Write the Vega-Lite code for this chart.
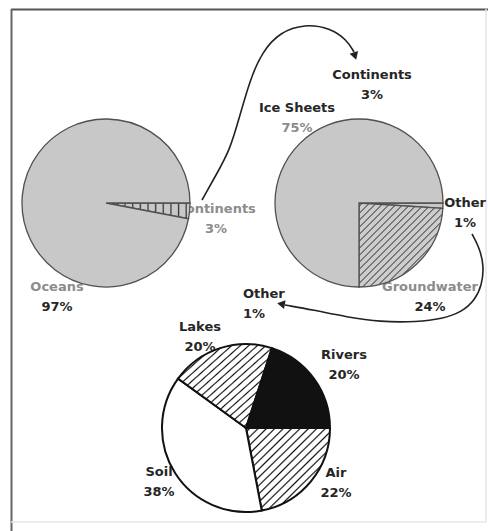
{
  "$schema": "https://vega.github.io/schema/vega-lite/v6.json",
  "width": 488,
  "height": 531,
  "autosize": {"type": "none"},
  "padding": 0,
  "background": "#ffffff",
  "config": {
    "view": {"stroke": null},
    "text": {"font": "DejaVu Sans", "fontWeight": "bold", "fontSize": 13}
  },
  "datasets": {
    "water": [
      {"pie": "Earth", "part": "Continents", "share": 3},
      {"pie": "Earth", "part": "Oceans", "share": 97},
      {"pie": "Continents", "part": "Other", "share": 1},
      {"pie": "Continents", "part": "Groundwater", "share": 24},
      {"pie": "Continents", "part": "Ice Sheets", "share": 75},
      {"pie": "Other", "part": "Air", "share": 22},
      {"pie": "Other", "part": "Soil", "share": 38},
      {"pie": "Other", "part": "Lakes", "share": 20},
      {"pie": "Other", "part": "Rivers", "share": 20}
    ],
    "labels": [
      {"part": "Continents", "role": "link", "x": 372, "y": 75},
      {"part": "Ice Sheets", "role": "slice", "x": 297, "y": 108},
      {"part": "Continents", "role": "slice", "x": 216, "y": 209},
      {"part": "Oceans", "role": "slice", "x": 57, "y": 287},
      {"part": "Other", "role": "slice", "x": 465, "y": 203},
      {"part": "Groundwater", "role": "slice", "x": 430, "y": 287},
      {"part": "Other", "role": "link", "x": 243, "y": 294},
      {"part": "Lakes", "role": "slice", "x": 200, "y": 327},
      {"part": "Rivers", "role": "slice", "x": 344, "y": 355},
      {"part": "Soil", "role": "slice", "x": 159, "y": 472},
      {"part": "Air", "role": "slice", "x": 336, "y": 473}
    ],
    "links": [
      {"link": "Continents", "step": 1, "x": 202, "y": 200},
      {"link": "Continents", "step": 2, "x": 216, "y": 175},
      {"link": "Continents", "step": 3, "x": 230, "y": 150},
      {"link": "Continents", "step": 4, "x": 240, "y": 115},
      {"link": "Continents", "step": 5, "x": 250, "y": 80},
      {"link": "Continents", "step": 6, "x": 262, "y": 52},
      {"link": "Continents", "step": 7, "x": 280, "y": 32},
      {"link": "Continents", "step": 8, "x": 305, "y": 24},
      {"link": "Continents", "step": 9, "x": 330, "y": 28},
      {"link": "Continents", "step": 10, "x": 347, "y": 40},
      {"link": "Continents", "step": 11, "x": 354, "y": 52},
      {"link": "Other", "step": 1, "x": 472, "y": 234},
      {"link": "Other", "step": 2, "x": 479, "y": 247},
      {"link": "Other", "step": 3, "x": 484, "y": 265},
      {"link": "Other", "step": 4, "x": 482, "y": 285},
      {"link": "Other", "step": 5, "x": 475, "y": 300},
      {"link": "Other", "step": 6, "x": 462, "y": 312},
      {"link": "Other", "step": 7, "x": 442, "y": 319},
      {"link": "Other", "step": 8, "x": 417, "y": 322},
      {"link": "Other", "step": 9, "x": 380, "y": 322},
      {"link": "Other", "step": 10, "x": 347, "y": 317},
      {"link": "Other", "step": 11, "x": 313, "y": 310},
      {"link": "Other", "step": 12, "x": 285, "y": 305}
    ],
    "heads": [
      {"link": "Continents", "x": 355, "y": 56},
      {"link": "Other", "x": 281, "y": 304}
    ]
  },
  "layer": [
    {
      "data": {"values": [{}]},
      "mark": {"type": "rule", "stroke": "#555555", "strokeWidth": 2},
      "encoding": {
        "x": {"datum": 11, "type": "quantitative", "scale": {"domain": [0, 488], "nice": false, "zero": false}, "axis": null},
        "x2": {"datum": 488},
        "y": {"datum": 9.5, "type": "quantitative", "scale": {"domain": [531, 0], "nice": false, "zero": false}, "axis": null}
      }
    },
    {
      "data": {"values": [{}]},
      "mark": {"type": "rule", "stroke": "#666666", "strokeWidth": 2},
      "encoding": {
        "x": {"datum": 11.5, "type": "quantitative", "scale": {"domain": [0, 488], "nice": false, "zero": false}, "axis": null},
        "y": {"datum": 9, "type": "quantitative", "scale": {"domain": [531, 0], "nice": false, "zero": false}, "axis": null},
        "y2": {"datum": 531}
      }
    },
    {
      "data": {"values": [{}]},
      "mark": {"type": "rule", "stroke": "#e6e6e6", "strokeWidth": 1.5},
      "encoding": {
        "x": {"datum": 486, "type": "quantitative", "scale": {"domain": [0, 488], "nice": false, "zero": false}, "axis": null},
        "y": {"datum": 9, "type": "quantitative", "scale": {"domain": [531, 0], "nice": false, "zero": false}, "axis": null},
        "y2": {"datum": 522}
      }
    },
    {
      "data": {"values": [{}]},
      "mark": {"type": "rule", "stroke": "#e6e6e6", "strokeWidth": 1.5},
      "encoding": {
        "x": {"datum": 11, "type": "quantitative", "scale": {"domain": [0, 488], "nice": false, "zero": false}, "axis": null},
        "x2": {"datum": 486},
        "y": {"datum": 522, "type": "quantitative", "scale": {"domain": [531, 0], "nice": false, "zero": false}, "axis": null}
      }
    },
    {
      "data": {"name": "labels"},
      "transform": [
        {"lookup": "part", "from": {"data": {"name": "water"}, "key": "part", "fields": ["share"]}},
        {"calculate": "datum.share + '%'", "as": "pct"}
      ],
      "layer": [
        {
          "mark": {"type": "text", "baseline": "middle", "align": {"expr": "datum.role === 'link' && datum.part === 'Other' ? 'left' : 'center'"}},
          "encoding": {
            "x": {"field": "x", "type": "quantitative", "scale": {"domain": [0, 488], "nice": false, "zero": false}, "axis": null},
            "y": {"field": "y", "type": "quantitative", "scale": {"domain": [531, 0], "nice": false, "zero": false}, "axis": null},
            "text": {"field": "part"},
            "color": {
              "condition": {"test": "datum.role === 'slice' && (datum.part === 'Oceans' || datum.part === 'Groundwater' || datum.part === 'Continents')", "value": "#8c8c8c"},
              "value": "#262626"
            }
          }
        },
        {
          "mark": {"type": "text", "baseline": "middle", "dy": 20, "align": {"expr": "datum.role === 'link' && datum.part === 'Other' ? 'left' : 'center'"}},
          "encoding": {
            "x": {"field": "x", "type": "quantitative", "scale": {"domain": [0, 488], "nice": false, "zero": false}, "axis": null},
            "y": {"field": "y", "type": "quantitative", "scale": {"domain": [531, 0], "nice": false, "zero": false}, "axis": null},
            "text": {"field": "pct"},
            "color": {
              "condition": {"test": "datum.role === 'slice' && (datum.part === 'Ice Sheets' || datum.part === 'Continents')", "value": "#8c8c8c"},
              "value": "#262626"
            }
          }
        }
      ]
    },
    {
      "data": {"name": "water"},
      "transform": [
        {"window": [{"op": "row_number", "as": "seq"}], "groupby": ["pie"]},
        {"filter": "datum.pie === 'Earth'"}
      ],
      "mark": {"type": "arc", "outerRadius": 84, "stroke": "#505050", "strokeWidth": 1.3},
      "encoding": {
        "x": {"datum": 106, "type": "quantitative", "scale": {"domain": [0, 488], "nice": false, "zero": false}, "axis": null},
        "y": {"datum": 203, "type": "quantitative", "scale": {"domain": [531, 0], "nice": false, "zero": false}, "axis": null},
        "theta": {"field": "share", "type": "quantitative", "stack": true, "scale": {"range": [1.5708, 7.854]}},
        "order": {"field": "seq"},
        "fill": {
          "condition": {
            "test": "datum.part === 'Continents'",
            "value": {
              "gradient": "linear", "x1": 0, "y1": 0.5, "x2": 1, "y2": 0.5,
              "stops": [
                {"offset": 0.030, "color": "#c8c8c8"}, {"offset": 0.045, "color": "#333333"}, {"offset": 0.060, "color": "#c8c8c8"},
                {"offset": 0.121, "color": "#c8c8c8"}, {"offset": 0.136, "color": "#333333"}, {"offset": 0.151, "color": "#c8c8c8"},
                {"offset": 0.212, "color": "#c8c8c8"}, {"offset": 0.227, "color": "#333333"}, {"offset": 0.242, "color": "#c8c8c8"},
                {"offset": 0.303, "color": "#c8c8c8"}, {"offset": 0.318, "color": "#333333"}, {"offset": 0.333, "color": "#c8c8c8"},
                {"offset": 0.394, "color": "#c8c8c8"}, {"offset": 0.409, "color": "#333333"}, {"offset": 0.424, "color": "#c8c8c8"},
                {"offset": 0.485, "color": "#c8c8c8"}, {"offset": 0.500, "color": "#333333"}, {"offset": 0.515, "color": "#c8c8c8"},
                {"offset": 0.576, "color": "#c8c8c8"}, {"offset": 0.591, "color": "#333333"}, {"offset": 0.606, "color": "#c8c8c8"},
                {"offset": 0.667, "color": "#c8c8c8"}, {"offset": 0.682, "color": "#333333"}, {"offset": 0.697, "color": "#c8c8c8"},
                {"offset": 0.758, "color": "#c8c8c8"}, {"offset": 0.773, "color": "#333333"}, {"offset": 0.788, "color": "#c8c8c8"},
                {"offset": 0.849, "color": "#c8c8c8"}, {"offset": 0.864, "color": "#333333"}, {"offset": 0.879, "color": "#c8c8c8"},
                {"offset": 0.940, "color": "#c8c8c8"}, {"offset": 0.955, "color": "#333333"}, {"offset": 0.970, "color": "#c8c8c8"}
              ]
            }
          },
          "value": "#c8c8c8"
        }
      }
    },
    {
      "data": {"name": "water"},
      "transform": [
        {"window": [{"op": "row_number", "as": "seq"}], "groupby": ["pie"]},
        {"filter": "datum.pie === 'Continents'"}
      ],
      "mark": {"type": "arc", "outerRadius": 84, "stroke": "#505050", "strokeWidth": 1.3},
      "encoding": {
        "x": {"datum": 359, "type": "quantitative", "scale": {"domain": [0, 488], "nice": false, "zero": false}, "axis": null},
        "y": {"datum": 203, "type": "quantitative", "scale": {"domain": [531, 0], "nice": false, "zero": false}, "axis": null},
        "theta": {"field": "share", "type": "quantitative", "stack": true, "scale": {"range": [1.5708, 7.854]}},
        "order": {"field": "seq"},
        "fill": {
          "condition": {
            "test": "datum.part === 'Groundwater'",
            "value": {
              "gradient": "linear", "x1": 0, "y1": 0, "x2": 1, "y2": 1,
              "stops": [
                {"offset": 0.014, "color": "#cdcdcd"}, {"offset": 0.021, "color": "#3a3a3a"}, {"offset": 0.028, "color": "#cdcdcd"},
                {"offset": 0.056, "color": "#cdcdcd"}, {"offset": 0.063, "color": "#3a3a3a"}, {"offset": 0.070, "color": "#cdcdcd"},
                {"offset": 0.097, "color": "#cdcdcd"}, {"offset": 0.104, "color": "#3a3a3a"}, {"offset": 0.111, "color": "#cdcdcd"},
                {"offset": 0.139, "color": "#cdcdcd"}, {"offset": 0.146, "color": "#3a3a3a"}, {"offset": 0.153, "color": "#cdcdcd"},
                {"offset": 0.181, "color": "#cdcdcd"}, {"offset": 0.188, "color": "#3a3a3a"}, {"offset": 0.195, "color": "#cdcdcd"},
                {"offset": 0.222, "color": "#cdcdcd"}, {"offset": 0.229, "color": "#3a3a3a"}, {"offset": 0.236, "color": "#cdcdcd"},
                {"offset": 0.264, "color": "#cdcdcd"}, {"offset": 0.271, "color": "#3a3a3a"}, {"offset": 0.278, "color": "#cdcdcd"},
                {"offset": 0.306, "color": "#cdcdcd"}, {"offset": 0.313, "color": "#3a3a3a"}, {"offset": 0.320, "color": "#cdcdcd"},
                {"offset": 0.347, "color": "#cdcdcd"}, {"offset": 0.354, "color": "#3a3a3a"}, {"offset": 0.361, "color": "#cdcdcd"},
                {"offset": 0.389, "color": "#cdcdcd"}, {"offset": 0.396, "color": "#3a3a3a"}, {"offset": 0.403, "color": "#cdcdcd"},
                {"offset": 0.431, "color": "#cdcdcd"}, {"offset": 0.438, "color": "#3a3a3a"}, {"offset": 0.445, "color": "#cdcdcd"},
                {"offset": 0.472, "color": "#cdcdcd"}, {"offset": 0.479, "color": "#3a3a3a"}, {"offset": 0.486, "color": "#cdcdcd"},
                {"offset": 0.514, "color": "#cdcdcd"}, {"offset": 0.521, "color": "#3a3a3a"}, {"offset": 0.528, "color": "#cdcdcd"},
                {"offset": 0.556, "color": "#cdcdcd"}, {"offset": 0.563, "color": "#3a3a3a"}, {"offset": 0.570, "color": "#cdcdcd"},
                {"offset": 0.597, "color": "#cdcdcd"}, {"offset": 0.604, "color": "#3a3a3a"}, {"offset": 0.611, "color": "#cdcdcd"},
                {"offset": 0.639, "color": "#cdcdcd"}, {"offset": 0.646, "color": "#3a3a3a"}, {"offset": 0.653, "color": "#cdcdcd"},
                {"offset": 0.681, "color": "#cdcdcd"}, {"offset": 0.688, "color": "#3a3a3a"}, {"offset": 0.695, "color": "#cdcdcd"},
                {"offset": 0.722, "color": "#cdcdcd"}, {"offset": 0.729, "color": "#3a3a3a"}, {"offset": 0.736, "color": "#cdcdcd"},
                {"offset": 0.764, "color": "#cdcdcd"}, {"offset": 0.771, "color": "#3a3a3a"}, {"offset": 0.778, "color": "#cdcdcd"},
                {"offset": 0.806, "color": "#cdcdcd"}, {"offset": 0.813, "color": "#3a3a3a"}, {"offset": 0.820, "color": "#cdcdcd"},
                {"offset": 0.847, "color": "#cdcdcd"}, {"offset": 0.854, "color": "#3a3a3a"}, {"offset": 0.861, "color": "#cdcdcd"},
                {"offset": 0.889, "color": "#cdcdcd"}, {"offset": 0.896, "color": "#3a3a3a"}, {"offset": 0.903, "color": "#cdcdcd"},
                {"offset": 0.931, "color": "#cdcdcd"}, {"offset": 0.938, "color": "#3a3a3a"}, {"offset": 0.945, "color": "#cdcdcd"},
                {"offset": 0.972, "color": "#cdcdcd"}, {"offset": 0.979, "color": "#3a3a3a"}, {"offset": 0.986, "color": "#cdcdcd"}
              ]
            }
          },
          "value": "#c8c8c8"
        }
      }
    },
    {
      "data": {"name": "water"},
      "transform": [
        {"window": [{"op": "row_number", "as": "seq"}], "groupby": ["pie"]},
        {"filter": "datum.pie === 'Other'"}
      ],
      "mark": {"type": "arc", "outerRadius": 84, "stroke": "#111111", "strokeWidth": 2},
      "encoding": {
        "x": {"datum": 246, "type": "quantitative", "scale": {"domain": [0, 488], "nice": false, "zero": false}, "axis": null},
        "y": {"datum": 428, "type": "quantitative", "scale": {"domain": [531, 0], "nice": false, "zero": false}, "axis": null},
        "theta": {"field": "share", "type": "quantitative", "stack": true, "scale": {"range": [1.5708, 7.854]}},
        "order": {"field": "seq"},
        "fill": {
          "condition": [
            {"test": "datum.part === 'Rivers'", "value": "#111111"},
            {
              "test": "datum.part === 'Lakes'",
              "value": {
                "gradient": "linear", "x1": 0, "y1": 0, "x2": 1, "y2": 1,
                "stops": [
                  {"offset": 0.014, "color": "#ffffff"}, {"offset": 0.023, "color": "#111111"}, {"offset": 0.032, "color": "#ffffff"},
                  {"offset": 0.059, "color": "#ffffff"}, {"offset": 0.068, "color": "#111111"}, {"offset": 0.077, "color": "#ffffff"},
                  {"offset": 0.105, "color": "#ffffff"}, {"offset": 0.114, "color": "#111111"}, {"offset": 0.123, "color": "#ffffff"},
                  {"offset": 0.150, "color": "#ffffff"}, {"offset": 0.159, "color": "#111111"}, {"offset": 0.168, "color": "#ffffff"},
                  {"offset": 0.196, "color": "#ffffff"}, {"offset": 0.205, "color": "#111111"}, {"offset": 0.214, "color": "#ffffff"},
                  {"offset": 0.241, "color": "#ffffff"}, {"offset": 0.250, "color": "#111111"}, {"offset": 0.259, "color": "#ffffff"},
                  {"offset": 0.286, "color": "#ffffff"}, {"offset": 0.295, "color": "#111111"}, {"offset": 0.304, "color": "#ffffff"},
                  {"offset": 0.332, "color": "#ffffff"}, {"offset": 0.341, "color": "#111111"}, {"offset": 0.350, "color": "#ffffff"},
                  {"offset": 0.377, "color": "#ffffff"}, {"offset": 0.386, "color": "#111111"}, {"offset": 0.395, "color": "#ffffff"},
                  {"offset": 0.423, "color": "#ffffff"}, {"offset": 0.432, "color": "#111111"}, {"offset": 0.441, "color": "#ffffff"},
                  {"offset": 0.468, "color": "#ffffff"}, {"offset": 0.477, "color": "#111111"}, {"offset": 0.486, "color": "#ffffff"},
                  {"offset": 0.514, "color": "#ffffff"}, {"offset": 0.523, "color": "#111111"}, {"offset": 0.532, "color": "#ffffff"},
                  {"offset": 0.559, "color": "#ffffff"}, {"offset": 0.568, "color": "#111111"}, {"offset": 0.577, "color": "#ffffff"},
                  {"offset": 0.605, "color": "#ffffff"}, {"offset": 0.614, "color": "#111111"}, {"offset": 0.623, "color": "#ffffff"},
                  {"offset": 0.650, "color": "#ffffff"}, {"offset": 0.659, "color": "#111111"}, {"offset": 0.668, "color": "#ffffff"},
                  {"offset": 0.696, "color": "#ffffff"}, {"offset": 0.705, "color": "#111111"}, {"offset": 0.714, "color": "#ffffff"},
                  {"offset": 0.741, "color": "#ffffff"}, {"offset": 0.750, "color": "#111111"}, {"offset": 0.759, "color": "#ffffff"},
                  {"offset": 0.786, "color": "#ffffff"}, {"offset": 0.795, "color": "#111111"}, {"offset": 0.804, "color": "#ffffff"},
                  {"offset": 0.832, "color": "#ffffff"}, {"offset": 0.841, "color": "#111111"}, {"offset": 0.850, "color": "#ffffff"},
                  {"offset": 0.877, "color": "#ffffff"}, {"offset": 0.886, "color": "#111111"}, {"offset": 0.895, "color": "#ffffff"},
                  {"offset": 0.923, "color": "#ffffff"}, {"offset": 0.932, "color": "#111111"}, {"offset": 0.941, "color": "#ffffff"},
                  {"offset": 0.968, "color": "#ffffff"}, {"offset": 0.977, "color": "#111111"}, {"offset": 0.986, "color": "#ffffff"}
                ]
              }
            },
            {
              "test": "datum.part === 'Air'",
              "value": {
                "gradient": "linear", "x1": 0, "y1": 0, "x2": 1, "y2": 1,
                "stops": [
                  {"offset": 0.015, "color": "#ffffff"}, {"offset": 0.025, "color": "#111111"}, {"offset": 0.035, "color": "#ffffff"},
                  {"offset": 0.065, "color": "#ffffff"}, {"offset": 0.075, "color": "#111111"}, {"offset": 0.085, "color": "#ffffff"},
                  {"offset": 0.115, "color": "#ffffff"}, {"offset": 0.125, "color": "#111111"}, {"offset": 0.135, "color": "#ffffff"},
                  {"offset": 0.165, "color": "#ffffff"}, {"offset": 0.175, "color": "#111111"}, {"offset": 0.185, "color": "#ffffff"},
                  {"offset": 0.215, "color": "#ffffff"}, {"offset": 0.225, "color": "#111111"}, {"offset": 0.235, "color": "#ffffff"},
                  {"offset": 0.265, "color": "#ffffff"}, {"offset": 0.275, "color": "#111111"}, {"offset": 0.285, "color": "#ffffff"},
                  {"offset": 0.315, "color": "#ffffff"}, {"offset": 0.325, "color": "#111111"}, {"offset": 0.335, "color": "#ffffff"},
                  {"offset": 0.365, "color": "#ffffff"}, {"offset": 0.375, "color": "#111111"}, {"offset": 0.385, "color": "#ffffff"},
                  {"offset": 0.415, "color": "#ffffff"}, {"offset": 0.425, "color": "#111111"}, {"offset": 0.435, "color": "#ffffff"},
                  {"offset": 0.465, "color": "#ffffff"}, {"offset": 0.475, "color": "#111111"}, {"offset": 0.485, "color": "#ffffff"},
                  {"offset": 0.515, "color": "#ffffff"}, {"offset": 0.525, "color": "#111111"}, {"offset": 0.535, "color": "#ffffff"},
                  {"offset": 0.565, "color": "#ffffff"}, {"offset": 0.575, "color": "#111111"}, {"offset": 0.585, "color": "#ffffff"},
                  {"offset": 0.615, "color": "#ffffff"}, {"offset": 0.625, "color": "#111111"}, {"offset": 0.635, "color": "#ffffff"},
                  {"offset": 0.665, "color": "#ffffff"}, {"offset": 0.675, "color": "#111111"}, {"offset": 0.685, "color": "#ffffff"},
                  {"offset": 0.715, "color": "#ffffff"}, {"offset": 0.725, "color": "#111111"}, {"offset": 0.735, "color": "#ffffff"},
                  {"offset": 0.765, "color": "#ffffff"}, {"offset": 0.775, "color": "#111111"}, {"offset": 0.785, "color": "#ffffff"},
                  {"offset": 0.815, "color": "#ffffff"}, {"offset": 0.825, "color": "#111111"}, {"offset": 0.835, "color": "#ffffff"},
                  {"offset": 0.865, "color": "#ffffff"}, {"offset": 0.875, "color": "#111111"}, {"offset": 0.885, "color": "#ffffff"},
                  {"offset": 0.915, "color": "#ffffff"}, {"offset": 0.925, "color": "#111111"}, {"offset": 0.935, "color": "#ffffff"},
                  {"offset": 0.965, "color": "#ffffff"}, {"offset": 0.975, "color": "#111111"}, {"offset": 0.985, "color": "#ffffff"}
                ]
              }
            }
          ],
          "value": "#ffffff"
        }
      }
    },
    {
      "data": {"name": "links"},
      "mark": {"type": "line", "interpolate": "basis", "stroke": "#222222", "strokeWidth": 1.6},
      "encoding": {
        "x": {"field": "x", "type": "quantitative", "scale": {"domain": [0, 488], "nice": false, "zero": false}, "axis": null},
        "y": {"field": "y", "type": "quantitative", "scale": {"domain": [531, 0], "nice": false, "zero": false}, "axis": null},
        "detail": {"field": "link"},
        "order": {"field": "step"}
      }
    },
    {
      "data": {"name": "heads"},
      "mark": {"type": "point", "shape": "triangle-right", "filled": true, "size": 80, "fill": "#222222", "opacity": 1},
      "encoding": {
        "x": {"field": "x", "type": "quantitative", "scale": {"domain": [0, 488], "nice": false, "zero": false}, "axis": null},
        "y": {"field": "y", "type": "quantitative", "scale": {"domain": [531, 0], "nice": false, "zero": false}, "axis": null},
        "angle": {"condition": {"test": "datum.link === 'Continents'", "value": 72}, "value": 190}
      }
    }
  ]
}
